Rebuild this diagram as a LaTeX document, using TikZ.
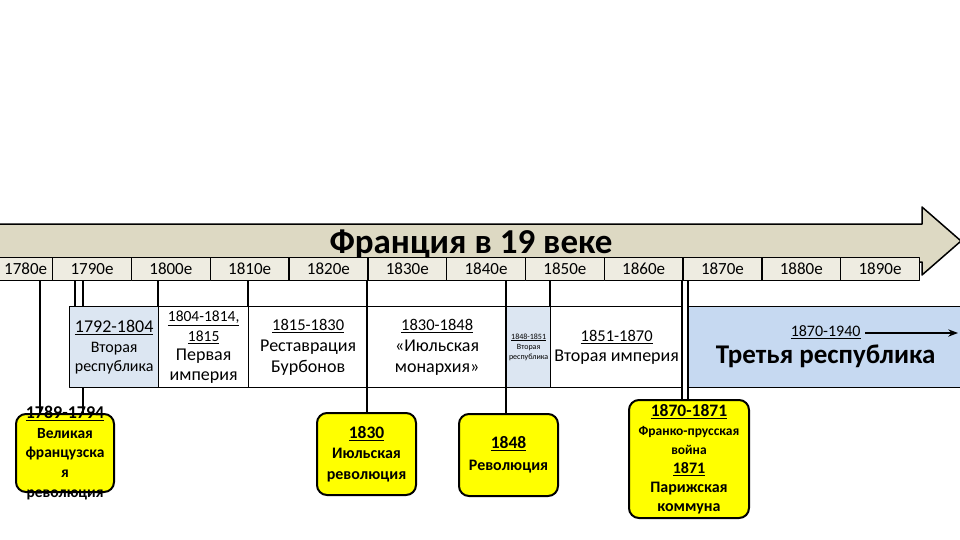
\documentclass[tikz,border=0pt]{standalone}
\usepackage{fontspec}
\setmainfont{Carlito}
\usepackage{tikz}
\usetikzlibrary{arrows.meta}
\definecolor{band}{HTML}{DDD9C3}
\definecolor{strip}{HTML}{EEECE1}
\definecolor{paleblue}{HTML}{DCE6F2}
\definecolor{midblue}{HTML}{C6D9F1}
\definecolor{yel}{HTML}{FFFF00}
\newcommand{\tsize}[2]{\fontsize{#1}{#2}\selectfont}
\tikzset{
  every picture/.style={
    line join=round,
    >=Stealth,                      % one arrow tip everywhere
  },
  % decade cells under the time arrow
  decade/.style={draw, line width=1.3pt, fill=strip, minimum height=23pt,
    inner sep=0pt, text height=11pt, text depth=0pt, anchor=north west,
    font=\tsize{17}{17}},
  % periods of government
  period/.style={draw, line width=1.3pt, minimum height=81pt, inner sep=0pt,
    anchor=north west, align=center},
  % revolutions and wars
  event/.style={draw, line width=2pt, fill=yel, rounded corners=10pt,
    inner sep=0pt, align=center, font=\bfseries},
  link/.style={line width=2pt},
}

\begin{document}
\begin{tikzpicture}[x=1pt, y=-1pt]
    \useasboundingbox (0,0) rectangle (960,540);

    % Time arrow
    \draw[fill=band, line width=1.5pt] (-2,224) -- (922,224) -- (922,207)
        -- (961,241) -- (922,275) -- (922,262) -- (-2,262) -- cycle;
    \node[font=\bfseries\tsize{35}{35}, anchor=base] (title) at (471,253)
        {Франция в 19 веке};

    % Decades
    \node[decade, minimum width=54pt] (d1780) at (-2,257) {1780е};
    \foreach \d in {1790,1800,...,1890} {
        \pgfmathsetmacro{\xl}{52+(\d-1790)*7.88}
        \node[decade, minimum width=78.8pt] (d\d) at (\xl,257) {\d е};
    }

    % Periods
    \node[period, fill=paleblue, minimum width=89pt, font=\tsize{16}{19.5}] (rep92) at (69,306)
        {{\tsize{18}{19.5}\underline{1792-1804}}\\Вторая\\республика};
    \node[period, minimum width=90pt, font=\tsize{18}{19.5}] (emp04) at (158,306)
        {{\tsize{15.5}{19.5}\underline{1804-1814,}}\\{\tsize{15.5}{19.5}\underline{1815}}\\Первая\\империя};
    \node[period, minimum width=119pt, font=\tsize{18}{21}] (rest15) at (248,306)
        {{\tsize{16.5}{21}\underline{1815-1830}}\\Реставрация\\Бурбонов};
    \node[period, minimum width=139pt, font=\tsize{18}{21}] (mon30) at (367,306)
        {{\tsize{16.5}{21}\underline{1830-1848}}\\«Июльская\\монархия»};
    \node[period, fill=paleblue, minimum width=44pt, font=\tsize{8}{10}] (rep48) at (506,306)
        {\underline{1848-1851}\\Вторая\\республика};
    \node[period, minimum width=132pt, font=\tsize{18}{20}] (emp51) at (550,306)
        {{\tsize{16.5}{20}\underline{1851-1870}}\\Вторая империя};
    \node[period, fill=midblue, minimum width=274pt, font=\bfseries\tsize{27}{27}] (rep70) at (688,306)
        {{\mdseries\tsize{16}{27}\underline{1870-1940}}\\Третья республика};
    \coordinate (fwd0) at (865,333);
    \coordinate (fwd1) at (958,333);
    \draw[->, line width=1.5pt] (fwd0) -- (fwd1);

    % Events
    \node[event, minimum width=98pt, minimum height=78pt, inner ysep=-9pt,
        font=\bfseries\tsize{15.5}{19.7}] (rev89) at (65,453)
        {{\tsize{18}{19.7}\underline{1789-1794}}\\Великая\\французска\\я\\революция};
    \node[event, minimum width=99pt, minimum height=82pt,
        font=\bfseries\tsize{16}{20.5}] (rev30) at (366.5,454)
        {{\tsize{17.5}{20.5}\underline{1830}}\\Июльская\\революция};
    \node[event, minimum width=99pt, minimum height=82pt,
        font=\bfseries\tsize{16}{22}] (rev48) at (508.5,455)
        {{\tsize{17.5}{22}\underline{1848}}\\Революция};
    \node[event, minimum width=120pt, minimum height=118pt,
        font=\bfseries\tsize{16}{19}] (war70) at (689,459)
        {{\tsize{17.5}{19}\underline{1870-1871}}\\{\tsize{13.5}{19}Франко-прусская}\\{\tsize{13.5}{19}война}\\\underline{1871}\\Парижская\\коммуна};

    % Links from the decades
    \coordinate (c89) at (40,280);
    \coordinate (c92) at (75,280);
    \coordinate (c94) at (83,280);
    \coordinate (c04) at (158,280);
    \coordinate (c15) at (248,280);
    \coordinate (c30) at (367,280);
    \coordinate (c48) at (506,280);
    \coordinate (c51) at (550,280);
    \coordinate (c70) at (682,280);
    \coordinate (c71) at (688,280);
    \draw[link] (c89) -- (c89 |- rev89.north);
    \draw[link] (c92) -- (c92 |- rep92.north);
    \draw[link] (c94) -- (c94 |- rep92.north);
    \draw[link] (c94 |- rep92.south) -- (c94 |- rev89.north);
    \draw[link] (c04) -- (c04 |- emp04.north);
    \draw[link] (c15) -- (c15 |- rest15.north);
    \draw[link] (c30) -- (c30 |- rev30.north);
    \draw[link] (c48) -- (c48 |- rev48.north);
    \draw[link] (c51) -- (c51 |- emp51.north);
    \draw[link] (c70) -- (c70 |- war70.north);
    \draw[link] (c71) -- (c71 |- war70.north);
\end{tikzpicture}
\end{document}
